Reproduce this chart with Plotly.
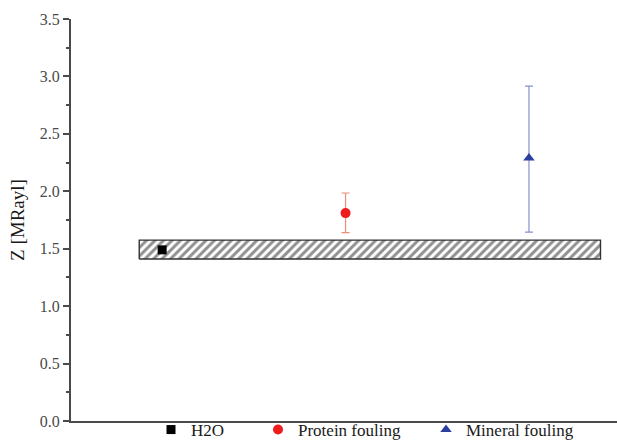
import plotly.graph_objects as go

# Data
series_names = ["H2O", "Protein fouling", "Mineral fouling"]
x_pos = [1, 2, 3]
z_values = [1.49, 1.81, 2.29]
err_plus = [0.0, 0.175, 0.625]
err_minus = [0.0, 0.17, 0.645]
band_x = [0.875, 3.39]
band_y = [1.41, 1.575]
y_ticks = [0, 0.5, 1, 1.5, 2, 2.5, 3, 3.5]
y_ticktext = ["0.0", "0.5", "1.0", "1.5", "2.0", "2.5", "3.0", "3.5"]

colors = ["#000000", "#ee1c1c", "#2b3f9e"]
err_colors = ["#000000", "#f08a7a", "#8890d0"]
symbols = ["square", "circle", "triangle-up"]
legend_ids = ["legend", "legend2", "legend3"]
legend_marker_px = [171, 278, 446]

W, H = 617, 441
ML, MR, MT, MB = 71, 0, 19, 20
PW = W - ML - MR
PH = H - MT - MB

fig = go.Figure()

# hatched band
fig.add_trace(go.Scatter(
    x=[band_x[0], band_x[1], band_x[1], band_x[0], band_x[0]],
    y=[band_y[0], band_y[0], band_y[1], band_y[1], band_y[0]],
    mode="lines", fill="toself",
    line=dict(color="#333333", width=1.4),
    fillcolor="rgba(255,255,255,0)",
    fillpattern=dict(shape="/", fgcolor="#222222", bgcolor="white", size=6, solidity=0.5),
    showlegend=False, hoverinfo="skip",
))

for i in range(3):
    fig.add_trace(go.Scatter(
        x=[x_pos[i]], y=[z_values[i]], mode="markers", name=series_names[i],
        legend=legend_ids[i],
        marker=dict(symbol=symbols[i], color=colors[i], size=10 if i else 9),
        error_y=dict(type="data", symmetric=False, array=[err_plus[i]], arrayminus=[err_minus[i]],
                     color=err_colors[i], thickness=1.2, width=4, visible=bool(i)),
    ))

leg_common = dict(orientation="h", y=-(430 - (H - MB)) / PH, yanchor="middle",
                  xanchor="left", font=dict(size=17, color="#1a1a1a"),
                  bgcolor="rgba(0,0,0,0)", itemwidth=30)
legends = {}
for i, lid in enumerate(legend_ids):
    d = dict(leg_common)
    d["x"] = (legend_marker_px[i] - 20 - ML) / PW
    legends[lid] = d

fig.update_layout(
    width=W, height=H,
    margin=dict(l=ML, r=MR, t=MT, b=MB, autoexpand=False),
    plot_bgcolor="white", paper_bgcolor="white",
    font=dict(family="Liberation Serif", size=16, color="#333333"),
    showlegend=True,
    **legends,
    xaxis=dict(range=[0.503, 3.48], showline=True, linecolor="#4a4a4a", linewidth=2,
               showticklabels=False, ticks="", showgrid=False, zeroline=False),
    yaxis=dict(range=[0, 3.5], showline=True, linecolor="#4a4a4a", linewidth=2,
               tickmode="array", tickvals=y_ticks, ticktext=y_ticktext,
               ticks="outside", ticklen=6, tickwidth=2, tickcolor="#4a4a4a",
               minor=dict(ticks="outside", ticklen=3, tickwidth=1.5, tickcolor="#4a4a4a", dtick=0.25),
               showgrid=False, zeroline=False,
               title=dict(text="Z [MRayl]", font=dict(size=19, color="#1a1a1a"), standoff=10),
               tickfont=dict(size=16, color="#4a4a4a")),
)

fig.write_html("out.html")
